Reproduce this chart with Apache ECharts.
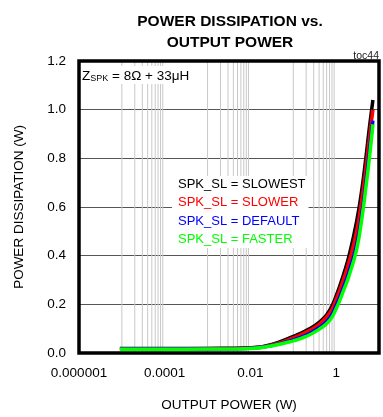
<!DOCTYPE html>
<html lang="en">

<head>
    <meta charset="UTF-8">
    <title>Power Dissipation vs. Output Power</title>
    <script src="https://cdn.jsdelivr.net/npm/echarts@6/dist/echarts.min.js"></script>
    <style>
        body { margin: 0; background: #fff; }
    </style>
</head>

<body>
    <div id="main" style="width: 383px;height:417px;"></div>
    <script type="text/javascript">
        // output power (W), shared by all curves
        var outPower = [9e-6, 1e-4, 1e-3, 0.01, 0.03, 0.1, 0.2, 0.4, 0.7, 1, 1.5, 2, 3, 4, 5, 6, 7.2]
        // power dissipation (W)
        var slowest = [0.018, 0.018, 0.019, 0.022, 0.034, 0.068, 0.092, 0.126, 0.175, 0.235, 0.325, 0.40, 0.54, 0.675, 0.81, 0.93, 1.04]
        var slower = [0.017, 0.017, 0.018, 0.021, 0.032, 0.062, 0.086, 0.118, 0.163, 0.22, 0.305, 0.375, 0.50, 0.635, 0.765, 0.885, 1.0]
        var defaultSl = [0.016, 0.016, 0.017, 0.02, 0.03, 0.054, 0.074, 0.104, 0.143, 0.195, 0.272, 0.335, 0.445, 0.575, 0.71, 0.83, 0.955]
        var faster = [0.015, 0.015, 0.016, 0.019, 0.029, 0.05, 0.068, 0.097, 0.133, 0.182, 0.258, 0.318, 0.425, 0.555, 0.688, 0.805, 0.94]

        var seriesNames = ['SPK_SL = SLOWEST', 'SPK_SL = SLOWER', 'SPK_SL = DEFAULT', 'SPK_SL = FASTER']
        var seriesColors = ['#000000', '#ff0000', '#0000ff', '#00ff00']
        var seriesData = [slowest, slower, defaultSl, faster]

        // x tick labels by decade exponent
        var xTickLabels = { '-6': '0.000001', '-4': '0.0001', '-2': '0.01', '0': '1' }
        // decades that get the light minor grid lines
        var gridDecades = [1e-5, 1e-3, 1e-1]

        var font = '"Liberation Sans", Arial, sans-serif'

        // vertical grid lines: one line series broken by nulls
        var gridLineData = []
        gridDecades.forEach(function (d) {
            for (var k = 1; k <= 9; k++) {
                gridLineData.push([k * d, 0], [k * d, 1.2], [k * d, null])
            }
        })

        var series = [{
            name: 'grid',
            type: 'line',
            silent: true,
            z: 1,
            showSymbol: false,
            connectNulls: false,
            lineStyle: { color: '#c8c8c8', width: 1 },
            data: gridLineData
        }]
        seriesNames.forEach(function (n, i) {
            series.push({
                name: n,
                type: 'line',
                smooth: 0.5,
                showSymbol: false,
                z: 2 + i,
                lineStyle: { color: seriesColors[i], width: 3.5 },
                itemStyle: { color: seriesColors[i] },
                data: outPower.map(function (x, j) { return [x, seriesData[i][j]] })
            })
        })

        var myChart = echarts.init(document.getElementById('main'))
        var option = {
            animation: false,
            grid: {
                left: 79, top: 61, width: 300, height: 300,
                show: true, borderColor: '#000', borderWidth: 3.5, z: 5
            },
            legend: {
                orient: 'vertical',
                left: 172, top: 176,
                backgroundColor: '#fff',
                padding: [1, 3, 2, 1],
                icon: 'none',
                itemWidth: 0, itemHeight: 14, itemGap: 5,
                selectedMode: false,
                textStyle: { fontFamily: font, fontSize: 13 },
                data: seriesNames.map(function (n, i) {
                    return { name: n, textStyle: { color: seriesColors[i] } }
                })
            },
            xAxis: {
                type: 'log', logBase: 10, min: 1e-6, max: 10, interval: 1,
                name: 'OUTPUT POWER (W)', nameLocation: 'middle', nameGap: 45,
                nameTextStyle: { fontFamily: font, fontSize: 13.5, color: '#000' },
                axisLine: { show: false }, axisTick: { show: false }, splitLine: { show: false },
                axisLabel: {
                    fontFamily: font, fontSize: 13.5, color: '#000', margin: 13,
                    formatter: function (v) {
                        var e = Math.round(Math.log10(v))
                        return xTickLabels[e] || ''
                    }
                }
            },
            yAxis: {
                type: 'value', min: 0, max: 1.2, interval: 0.2,
                name: 'POWER DISSIPATION (W)', nameLocation: 'middle', nameGap: 53,
                nameTextStyle: { fontFamily: font, fontSize: 13.5, color: '#000' },
                axisLine: { show: false }, axisTick: { show: false },
                splitLine: { lineStyle: { color: '#555', width: 1 }, showMinLine: false, showMaxLine: false },
                axisLabel: {
                    fontFamily: font, fontSize: 13.5, color: '#000', margin: 13,
                    formatter: function (v) { return v.toFixed(1) }
                }
            },
            graphic: [{
                type: 'text', x: 230, y: 11, z: 10,
                style: {
                    text: 'POWER DISSIPATION vs.\nOUTPUT POWER',
                    align: 'center', lineHeight: 21,
                    font: 'bold 15.5px ' + font, fill: '#000'
                }
            }, {
                type: 'text', x: 379, y: 51, z: 10,
                style: {
                    text: 'toc44', align: 'right',
                    font: '10.5px ' + font, fill: '#222'
                }
            }, {
                type: 'text', x: 82, y: 66, z: 10,
                style: {
                    text: '{a|Z}{b|SPK}{a| = 8Ω + 33μH}',
                    backgroundColor: '#fff', padding: [1, 3, 1, 0],
                    rich: {
                        a: { fontFamily: font, fontSize: 13.5, fill: '#000', verticalAlign: 'bottom', lineHeight: 16 },
                        b: { fontFamily: font, fontSize: 9, fill: '#000', verticalAlign: 'bottom', lineHeight: 14 }
                    }
                }
            }],
            series: series
        }
        myChart.setOption(option)
    </script>
</body>

</html>
